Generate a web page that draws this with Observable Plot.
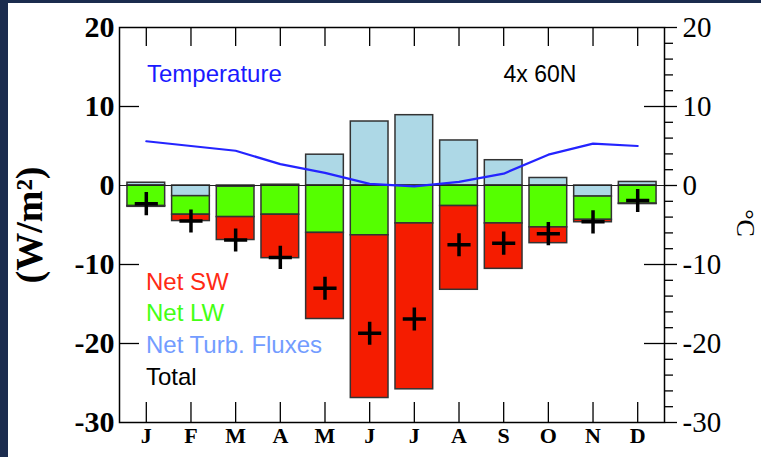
<!DOCTYPE html>
<html>
<head>
<meta charset="utf-8">
<script src="https://cdn.jsdelivr.net/npm/d3@7"></script>
<script src="https://cdn.jsdelivr.net/npm/@observablehq/plot@0.6"></script>
<style>
  html, body { margin: 0; padding: 0; width: 761px; height: 457px; overflow: hidden; background: #1b2c4e; }
  #chart { position: absolute; left: 8px; top: 3px; width: 753px; height: 454px; background: #fff; color: #000; }
  #chart svg { display: block; }
</style>
</head>
<body>
<div id="chart"></div>
<script>
// Monthly surface energy budget at 4x 60N (W/m²) with air temperature (°C)
const months = [1, 2, 3, 4, 5, 6, 7, 8, 9, 10, 11, 12];
const monthLabels = ["J", "F", "M", "A", "M", "J", "J", "A", "S", "O", "N", "D"];

const netTurb = [0.35, -1.35, -0.15, 0.1, 3.9, 8.1, 8.9, 5.7, 3.2, 0.95, -1.4, 0.45];
const netLW = [-2.6, -2.35, -3.85, -3.7, -6.0, -6.3, -4.8, -2.6, -4.8, -5.3, -2.95, -2.3];
const netSW = [-0.1, -0.8, -2.9, -5.5, -10.9, -20.6, -21.0, -10.6, -5.75, -2.0, -0.3, -0.05];
const total = [-2.3, -4.5, -6.9, -9.1, -13.0, -18.7, -16.9, -7.5, -7.3, -6.1, -4.6, -1.9];
const temperature = [5.6, 5.0, 4.4, 2.7, 1.6, 0.2, -0.1, 0.45, 1.5, 3.9, 5.3, 5.0];

const yTicks = [20, 10, 0, -10, -20, -30];
const innerTicks = [10, -10, -20];
const minorTicks = [18, 16, 14, 12, 8, 6, 4, 2, -2, -4, -6, -8, -12, -14, -16, -18, -22, -24, -26, -28];

const legendLabels = ["Net SW", "Net LW", "Net Turb. Fluxes", "Total"];
const legendColors = ["#ff2a14", "#44ff14", "#739cff", "#000000"];

// Stack order per month: turbulent fluxes, then longwave, then shortwave
const components = [
  {values: netTurb, fill: "#add8e6"},
  {values: netLW, fill: "#55ff00"},
  {values: netSW, fill: "#f51c00"}
];
const segments = [];
months.forEach((m, i) => {
  let pos = 0, neg = 0;
  for (const c of components) {
    const v = c.values[i];
    const y1 = v >= 0 ? pos : neg;
    const y2 = y1 + v;
    if (v >= 0) pos = y2; else neg = y2;
    segments.push({month: m, y1, y2, fill: c.fill});
  }
});

const totals = months.map((m, i) => ({month: m, value: total[i]}));
const temps = months.map((m, i) => ({month: m, value: temperature[i]}));

const W = 753, H = 454;
const mL = 111, mR = 97, mT = 24, mB = 35;
const innerW = W - mL - mR, innerH = H - mT - mB;
const halfBar = 0.422;
const serif = "Liberation Serif, Times New Roman, serif";
const sans = "Liberation Sans, Arial, Helvetica, sans-serif";

const chart = Plot.plot({
  width: W,
  height: H,
  marginLeft: mL,
  marginRight: mR,
  marginTop: mT,
  marginBottom: mB,
  x: {domain: [0.4, 12.6]},
  y: {domain: [-30, 20]},
  color: {type: "identity"},
  style: {background: "white", color: "black"},
  marks: [
    Plot.rect(segments, {
      x1: d => d.month - halfBar,
      x2: d => d.month + halfBar,
      y1: "y1",
      y2: "y2",
      fill: "fill",
      stroke: "#333",
      strokeWidth: 1.5
    }),
    Plot.ruleY([0], {stroke: "#222", strokeWidth: 1.2}),
    Plot.line(temps, {x: "month", y: "value", stroke: "#2424ff", strokeWidth: 2.2}),
    Plot.dot(totals, {x: "month", y: "value", symbol: "plus", r: 7.5, stroke: "black", strokeWidth: 3.5}),
    Plot.frame({stroke: "black", strokeWidth: 1.5}),
    // month ticks hanging from the top and rising from the bottom
    Plot.tickX(months, {x: d => d, insetBottom: innerH - 19, stroke: "black", strokeWidth: 1.3}),
    Plot.tickX(months, {x: d => d, insetTop: innerH - 20, stroke: "black", strokeWidth: 1.3}),
    // inward major ticks on both sides
    Plot.tickY(innerTicks, {y: d => d, insetRight: innerW - 20, stroke: "black", strokeWidth: 1.3}),
    Plot.tickY(innerTicks, {y: d => d, insetLeft: innerW - 20, stroke: "black", strokeWidth: 1.3}),
    Plot.axisX({
      ticks: months, tickFormat: d => monthLabels[d - 1], tickSize: 0, tickPadding: 5,
      label: null, fontSize: 22, fontWeight: "bold", fontFamily: serif
    }),
    Plot.axisY({
      anchor: "left", ticks: yTicks, tickFormat: d => String(d), tickSize: 0, tickPadding: 5,
      label: null, fontSize: 30, fontWeight: "bold", fontFamily: serif
    }),
    Plot.axisY({
      anchor: "right", ticks: yTicks, tickFormat: d => String(d), tickSize: 12, tickPadding: 6,
      label: null, fontSize: 29, fontFamily: serif, strokeWidth: 1.3
    }),
    Plot.axisY({
      anchor: "right", ticks: minorTicks, tickFormat: () => "", tickSize: 8,
      label: null, strokeWidth: 1.3
    }),
    Plot.text(["(W/m²)"], {
      frameAnchor: "left", dx: -90, rotate: -90, textAnchor: "middle", lineAnchor: "middle",
      fontSize: 38, fontWeight: "bold", fontFamily: serif, fill: "black"
    }),
    Plot.text(["°C"], {
      frameAnchor: "right", dx: 81, dy: -2, rotate: 90, textAnchor: "middle", lineAnchor: "middle",
      fontSize: 26, fontFamily: serif, fill: "black"
    }),
    Plot.text(["Temperature"], {
      frameAnchor: "top-left", dx: 27.5, dy: 54, lineAnchor: "bottom", textAnchor: "start",
      fontSize: 24, fontFamily: sans, fill: "#1a1aff"
    }),
    Plot.text(["4x 60N"], {
      frameAnchor: "top-left", dx: 384, dy: 54.5, lineAnchor: "bottom", textAnchor: "start",
      fontSize: 23, fontFamily: sans, fill: "black"
    }),
    ...legendLabels.map((label, i) => Plot.text([label], {
      frameAnchor: "bottom-left", dx: 26.5, dy: -38 - (legendLabels.length - 1 - i) * 31.6,
      lineAnchor: "bottom", textAnchor: "start",
      fontSize: 24, fontFamily: sans, fill: legendColors[i]
    }))
  ]
});

document.getElementById("chart").appendChild(chart);
</script>
</body>
</html>
